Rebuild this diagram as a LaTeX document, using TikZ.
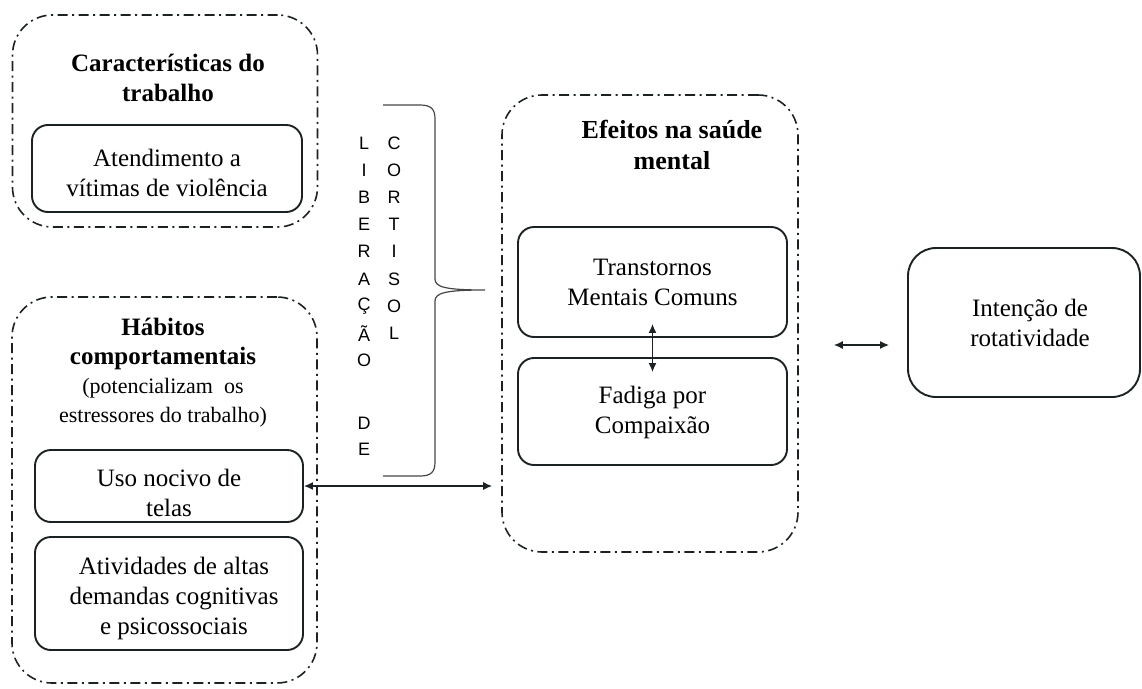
\documentclass[tikz,border=0pt]{standalone}
\usepackage{fontspec}
\setmainfont{Liberation Serif}
\newfontfamily\sansf{Liberation Sans}
\usetikzlibrary{arrows.meta}
\definecolor{boxc}{RGB}{28,34,36}
\definecolor{bracec}{RGB}{70,70,70}
\newcommand{\mydown}[1]{\rule{0pt}{#1}}
\newcommand{\parenfont}{\normalfont\fontsize{22}{28}\selectfont}
\begin{document}
\begin{tikzpicture}[x=1pt,y=-1pt,
  outerbox/.style={draw=boxc, line width=1.6pt, rounded corners=40pt,
    dash pattern=on 10pt off 4.5pt on 2pt off 4.5pt, inner sep=0pt},
  innerbox/.style={draw=boxc, line width=1.9pt, rounded corners=16pt,
    align=center, inner sep=0pt, font=\fontsize{25}{30}\selectfont},
  titletext/.style={align=center, inner sep=0pt, font=\fontsize{25}{30}\selectfont\bfseries},
  letter/.style={inner sep=0pt, font=\sansf\fontsize{18}{20}\selectfont},
  arr/.style={{Latex[length=9pt,width=8pt]}-{Latex[length=9pt,width=8pt]}, line width=1.4pt, draw=boxc}
]
\useasboundingbox (0,0) rectangle (1142,688);

% outer groups
\node[outerbox, minimum width=305pt, minimum height=212pt] (carac) at (165,121) {};
\node[outerbox, minimum width=305pt, minimum height=386pt] (habitos) at (164.5,490) {};
\node[outerbox, minimum width=296pt, minimum height=457pt] (efeitos) at (650,323.5) {};

% titles
\node[titletext] (caractitle) at (168,78) {Características do\\trabalho};
\node[titletext, font=\fontsize{26}{31}\selectfont\bfseries] (efeitostitle) at (672,145) {Efeitos na saúde\\mental};
\node[align=center, inner sep=0pt, font=\fontsize{25}{29}\selectfont\bfseries] (habtitle) at (163,373)
  {Hábitos\\comportamentais\\\parenfont (potencializam \ os\\\parenfont estressores do trabalho)};

% inner boxes
\node[innerbox, minimum width=270pt, minimum height=87pt] (atend) at (167,168.5)
  {\mydown{27pt}Atendimento a\\vítimas de violência};
\node[innerbox, minimum width=268pt, minimum height=72pt] (uso) at (169,486)
  {\mydown{31pt}Uso nocivo de\\telas};
\node[innerbox, minimum width=268pt, minimum height=113pt] (ativ) at (169,593.5)
  {\mydown{27pt}\hspace*{10pt}Atividades de altas\\\hspace*{10pt}demandas cognitivas\\\hspace*{10pt}e psicossociais};
\node[innerbox, minimum width=269pt, minimum height=110pt] (transt) at (652.5,282)
  {Transtornos\\Mentais Comuns};
\node[innerbox, minimum width=269pt, minimum height=107pt] (fadiga) at (652.5,411.5)
  {\mydown{20pt}Fadiga por\\Compaixão};
\node[innerbox, rounded corners=28pt, minimum width=232pt, minimum height=149pt] (intencao) at (1024,322.5)
  {\hspace*{12pt}Intenção de\\\hspace*{12pt}rotatividade};

% vertical letters
\foreach \l [count=\i from 0] in {L,I,B,E,R,A,Ç,Ã,O}
  \node[letter] (lib\i) at (364,143+27.2*\i) {\l};
\node[letter] (libD) at (364,423) {D};
\node[letter] (libE) at (364,449) {E};
\foreach \l [count=\i from 0] in {C,O,R,T,I,S,O,L}
  \node[letter] (cort\i) at (394,143+27.2*\i) {\l};

% brace
\draw[bracec, line width=1.2pt]
  (383,105) -- (420,105) .. controls (431,105) and (435,109) .. (435,119)
  -- (435,279) .. controls (435,287) and (445,290) .. (485,290)
  .. controls (445,290) and (435,293) .. (435,301)
  -- (435,462) .. controls (435,472) and (431,476) .. (420,476) -- (383,476);

% connectors
\draw[arr, shorten >=9pt] (uso.east) -- (efeitos.west |- uso.east);
\draw[arr, shorten <=-14pt, shorten >=-15pt] (transt.south) -- (fadiga.north);
\draw[arr] ([xshift=35pt,yshift=-21.5pt]efeitos.east) -- ([xshift=-18pt,yshift=-22.5pt]intencao.west);
\end{tikzpicture}
\end{document}
